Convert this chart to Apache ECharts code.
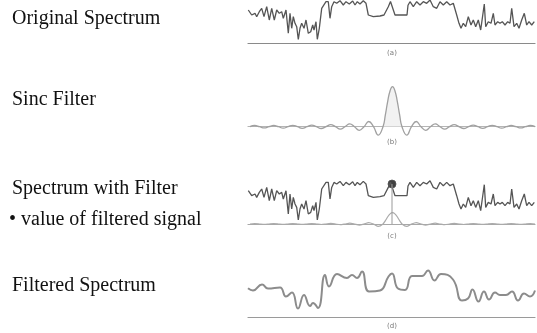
<!DOCTYPE html>
<html>
<head>
<meta charset="utf-8">
<script src="https://cdn.jsdelivr.net/npm/echarts@6/dist/echarts.min.js"></script>
<style>
  html, body { margin: 0; padding: 0; background: #fff; }
  #chart { width: 537px; height: 333px; }
</style>
</head>
<body>
<div id="chart"></div>
<script>
// original spectrum: x offset from panel left, height above baseline (px-ish units)
const spectrumX = [0.3, 3.7, 7, 8.7, 11.3, 13.7, 16, 18.7, 21.3, 23.7, 26.3, 28.7, 31.3, 33.7, 35.3, 38, 40.3, 42, 43.7, 45.3,
  47, 48.7, 50.3, 52, 53.7, 56, 58, 60.3, 62.7, 64.7, 66, 68, 69.3, 71.3, 73.7, 75.3, 78, 80.3, 82, 83.7,
  86, 88.7, 92, 95.3, 98, 101.3, 104.7, 107, 109.3, 112, 115.3, 118, 120.3, 125.3, 132, 136, 140.3, 142.5, 144, 146,
  147, 153, 159, 160, 162, 165.3, 168.7, 172, 175.3, 178.7, 182, 185.3, 188.7, 192, 195.3, 198.7, 202, 205.3, 208.7, 211,
  213, 215.3, 217.7, 220.3, 223, 225.3, 227.7, 230.3, 232.7, 234.3, 236.3, 237.7, 240.3, 243, 245.3, 247, 249.7, 252, 254.3, 257,
  259.7, 262, 263.7, 266, 268.7, 271, 273.7, 276.3, 278.7, 281, 283.7, 286.3];
const spectrumY = [33.3, 28.3, 30, 26.6, 31.6, 35, 26.6, 36.6, 23.3, 35, 23.3, 33.3, 30, 31.6, 25, 33.3, 10, 30, 15, 26.6,
  20, 16.6, 4, 15, 20, 15, 23.3, 10, 11.6, 18.3, 13.3, 21.6, 4, 15, 35, 36.6, 41.6, 41.6, 25, 36.6,
  41.6, 40, 42.6, 38.3, 41.6, 39.3, 42.3, 38.3, 41.6, 39.3, 42.6, 40, 28.3, 26.6, 27.3, 28.3, 36.6, 41.8, 40.3, 31.3,
  28.3, 28.3, 28.3, 38, 41.6, 36.6, 41.6, 38.3, 41.6, 40, 43.3, 36.6, 35, 41.6, 38.3, 41.6, 38.3, 40, 28.3, 20,
  15, 20, 16.6, 26.6, 18.3, 23.3, 16.6, 23.3, 13.3, 25, 39.3, 16.6, 21.6, 20, 30, 18.3, 21.6, 20, 21.6, 18.3,
  21.6, 20, 35, 16.6, 20, 15, 23.3, 30, 18.3, 21.6, 18.3, 21.6];

// sinc filter samples (peak = 1)
const sincX = [2, 6.75, 11.5, 16.25, 21, 25.75, 30.5, 35.25, 40, 44.75, 49.5, 54.25, 59, 63.75, 68.5, 73.25, 78, 82.75, 87.5, 92.25,
  97, 101.75, 106.5, 111.25, 116, 120.75, 125.5, 130.25, 135, 137.4, 139.75, 142.1, 144.5, 146.9, 149.25, 151.6, 154, 158.75, 163.5, 168.25,
  173, 177.75, 182.5, 187.25, 192, 196.75, 201.5, 206.25, 211, 215.75, 220.5, 225.25, 230, 234.75, 239.5, 244.25, 249, 253.75, 258.5, 263.25,
  268, 272.75, 277.5, 282.25, 287];
const sincY = [0, 0.03, 0, -0.03, 0, 0.03, 0, -0.035, 0, 0.035, 0, -0.04, 0, 0.04, 0, -0.045, 0, 0.05, 0, -0.06,
  0, 0.07, 0, -0.09, 0, 0.13, 0, -0.21, 0, 0.3, 0.64, 0.9, 1, 0.9, 0.64, 0.3, 0, -0.21, 0, 0.13,
  0, -0.09, 0, 0.07, 0, -0.06, 0, 0.05, 0, -0.045, 0, 0.04, 0, -0.04, 0, 0.035, 0, -0.035, 0, 0.03,
  0, -0.03, 0, 0.03, 0];
const lobeX = [135, 137.4, 139.75, 142.1, 144.5, 146.9, 149.25, 151.6, 154];
const lobeY = [0, 0.3, 0.64, 0.9, 1, 0.9, 0.64, 0.3, 0];

// filtered signal tap in panel (c)
const tapX = 144;
const tapValue = 40;

// filtered spectrum
const filteredX = [0, 5, 14, 20, 32, 38, 44, 50, 56, 62, 65, 70, 77, 81, 89, 99, 104, 109, 114, 121,
  132, 140.5, 144, 150, 157, 164, 174, 180, 186.5, 193, 205, 214, 220, 224.5, 230.5, 236, 241, 247, 252, 258,
  264, 270, 276, 282, 287];
const filteredY = [29.2, 27, 33, 29, 30, 21, 25, 9, 22.5, 11.5, 14.5, 9.5, 42.5, 31, 43.5, 39.5, 42.5, 39.5, 46, 26,
  27, 41, 44, 29, 27.5, 41.5, 41.5, 47, 37, 43.5, 38, 17, 19, 28, 16, 26, 18, 25, 22.5, 22.5,
  26, 17, 24, 21, 27];

const captions = ['(a)', '(b)', '(c)', '(d)'];
const captionY = [53.5, 142, 236, 326.5];
const labels = ['Original Spectrum', 'Sinc Filter', 'Spectrum with Filter', '\u2022 value of filtered signal', 'Filtered Spectrum'];
const labelX = [12, 12, 12, 9, 12];
const labelY = [18.5, 99.5, 189, 220, 285.5];

const pairs = (xs, ys) => xs.map((x, i) => [x, ys[i]]);

const grids = [
  { left: 248, width: 287, top: 0, height: 43.3 },      // (a)
  { left: 248, width: 287, top: 86.7, height: 52 },     // (b)
  { left: 248, width: 287, top: 180.7, height: 43.3 },  // (c) spectrum
  { left: 248, width: 287, top: 212.7, height: 14.7 },  // (c) filter
  { left: 248, width: 287, top: 267.5, height: 50 }     // (d)
];
const yRanges = [[0, 43.3], [-0.3, 1], [0, 43.3], [-0.3, 1], [0, 50]];
const axisShown = [true, true, false, true, true];
const axisColor = ['#8a8a8a', '#b5b5b5', '#999', '#a8a8a8', '#9a9a9a'];

const option = {
  animation: false,
  grid: grids,
  xAxis: grids.map((g, i) => ({
    type: 'value', gridIndex: i, min: 0, max: 287,
    axisLine: { show: axisShown[i], onZero: true, lineStyle: { color: axisColor[i], width: 1.2 } },
    axisTick: { show: false }, axisLabel: { show: false }, splitLine: { show: false }
  })),
  yAxis: grids.map((g, i) => ({
    type: 'value', gridIndex: i, min: yRanges[i][0], max: yRanges[i][1],
    axisLine: { show: false }, axisTick: { show: false }, axisLabel: { show: false }, splitLine: { show: false }
  })),
  series: [
    {
      type: 'line', xAxisIndex: 0, yAxisIndex: 0, data: pairs(spectrumX, spectrumY),
      showSymbol: false, clip: false, lineStyle: { color: '#555', width: 1.3 }
    },
    {
      type: 'line', xAxisIndex: 1, yAxisIndex: 1, data: pairs(lobeX, lobeY),
      showSymbol: false, smooth: true, lineStyle: { width: 0 }, areaStyle: { color: '#ececec', origin: 0 }
    },
    {
      type: 'line', xAxisIndex: 1, yAxisIndex: 1, data: pairs(sincX, sincY),
      showSymbol: false, smooth: true, lineStyle: { color: '#a0a0a0', width: 1.3 }
    },
    {
      type: 'line', xAxisIndex: 2, yAxisIndex: 2, data: pairs(spectrumX, spectrumY),
      showSymbol: false, clip: false, lineStyle: { color: '#555', width: 1.3 }
    },
    {
      type: 'line', xAxisIndex: 3, yAxisIndex: 3, data: pairs(sincX, sincY),
      showSymbol: false, smooth: 0.2, lineStyle: { color: '#aaa', width: 1.2 }
    },
    {
      type: 'line', xAxisIndex: 2, yAxisIndex: 2, data: [[tapX, 0], [tapX, tapValue]],
      showSymbol: false, clip: false, lineStyle: { color: '#999', width: 1 }
    },
    {
      type: 'scatter', xAxisIndex: 2, yAxisIndex: 2, data: [[tapX, tapValue]],
      symbolSize: 8, clip: false, itemStyle: { color: '#111', borderColor: '#555', borderWidth: 1 }
    },
    {
      type: 'line', xAxisIndex: 4, yAxisIndex: 4, data: pairs(filteredX, filteredY),
      showSymbol: false, smooth: true, clip: false, lineStyle: { color: '#8c8c8c', width: 2 }
    }
  ],
  graphic: [
    ...labels.map((t, i) => ({
      type: 'text', x: labelX[i], y: labelY[i],
      style: { text: t, font: '20px "Liberation Serif"', fill: '#111', verticalAlign: 'middle' }
    })),
    ...captions.map((t, i) => ({
      type: 'text', x: 392, y: captionY[i],
      style: { text: t, font: '7px "DejaVu Sans"', fill: '#777', align: 'center', verticalAlign: 'middle' }
    }))
  ]
};

const chart = echarts.init(document.getElementById('chart'));
chart.setOption(option);
</script>
</body>
</html>
